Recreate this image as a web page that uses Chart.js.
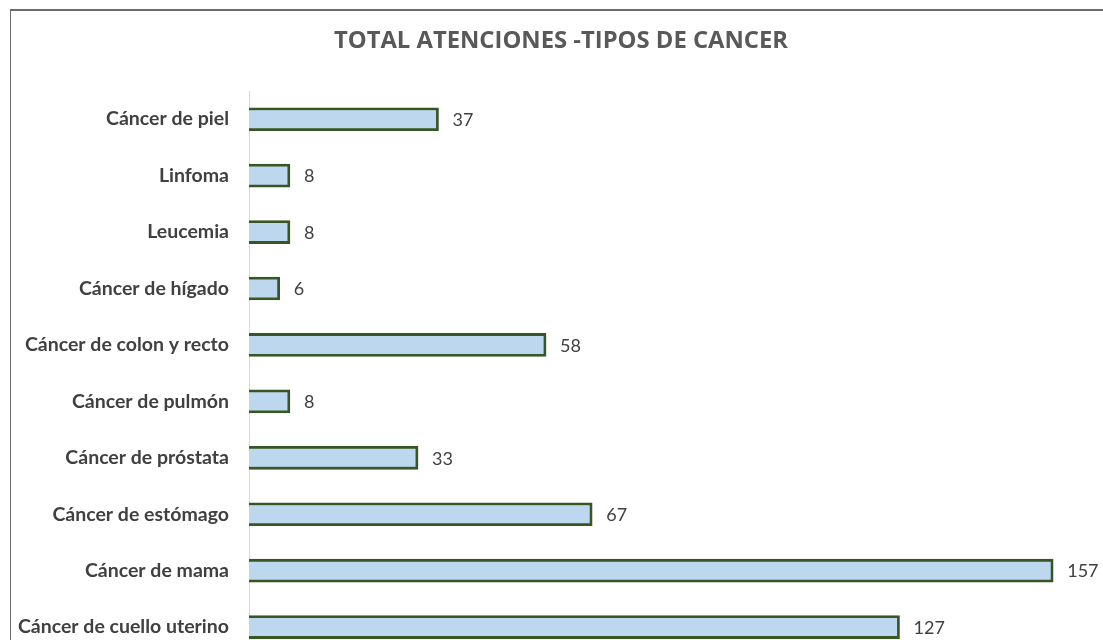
<!DOCTYPE html>
<html>
<head>
<meta charset="utf-8">
<script src="https://cdn.jsdelivr.net/npm/chart.js@4"></script>
<style>
  html, body { margin: 0; padding: 0; background: #ffffff; overflow: hidden; }
  #frame { position: absolute; left: 10px; top: 9px; width: 1200px; height: 720px;
           border-left: 1px solid #6b6b6b; border-top: 2px solid #6b6b6b; box-sizing: content-box; }
  #c { position: absolute; left: 0; top: -1px; }
</style>
</head>
<body>
<div id="frame"><canvas id="c" width="1160" height="677"></canvas></div>
<script>
const chartTitle = "TOTAL ATENCIONES -TIPOS DE CANCER";
const categories = [
  "Cáncer de piel",
  "Linfoma",
  "Leucemia",
  "Cáncer de hígado",
  "Cáncer de colon y recto",
  "Cáncer de pulmón",
  "Cáncer de próstata",
  "Cáncer de estómago",
  "Cáncer de mama",
  "Cáncer de cuello uterino"
];
const atenciones = [37, 8, 8, 6, 58, 8, 33, 67, 157, 127];

const FONT = "Lato, 'Open Sans', sans-serif";
const TITLE_FONT = "'Open Sans', Lato, sans-serif";

const titlePlugin = {
  id: 'customTitle',
  afterDraw(chart) {
    const ctx = chart.ctx;
    ctx.save();
    ctx.font = "bold 23.8px " + TITLE_FONT;
    ctx.fillStyle = "#595959";
    ctx.textAlign = "center";
    ctx.textBaseline = "alphabetic";
    ctx.fillText(chartTitle, 550, 38);
    ctx.restore();
  }
};

const valueLabels = {
  id: 'valueLabels',
  afterDatasetsDraw(chart) {
    const ctx = chart.ctx;
    const meta = chart.getDatasetMeta(0);
    ctx.save();
    ctx.font = "18px " + FONT;
    ctx.fillStyle = "#404040";
    ctx.textAlign = "left";
    ctx.textBaseline = "middle";
    meta.data.forEach((bar, i) => {
      ctx.fillText(String(chart.data.datasets[0].data[i]), bar.x + 14, bar.y + 1);
    });
    ctx.restore();
  }
};

new Chart(document.getElementById('c'), {
  type: 'bar',
  data: {
    labels: categories,
    datasets: [{
      data: atenciones,
      backgroundColor: "#BDD7EE",
      borderColor: "#375623",
      borderWidth: 2.8,
      barThickness: 23
    }]
  },
  options: {
    indexAxis: 'y',
    responsive: false,
    animation: false,
    devicePixelRatio: 1,
    layout: { padding: { top: 81, right: 0, bottom: 0, left: 0 } },
    plugins: {
      legend: { display: false },
      title: { display: false },
      tooltip: { enabled: false }
    },
    scales: {
      x: {
        display: false,
        min: 0,
        max: 180
      },
      y: {
        afterFit(scale) { scale.width = 238; },
        grid: { display: false, drawTicks: false },
        border: { display: true, color: "#d9d9d9", width: 1 },
        ticks: {
          padding: 20,
          color: "#404040",
          font: { family: FONT, size: 19.5, weight: 'bold' }
        }
      }
    }
  },
  plugins: [titlePlugin, valueLabels]
});
</script>
</body>
</html>
